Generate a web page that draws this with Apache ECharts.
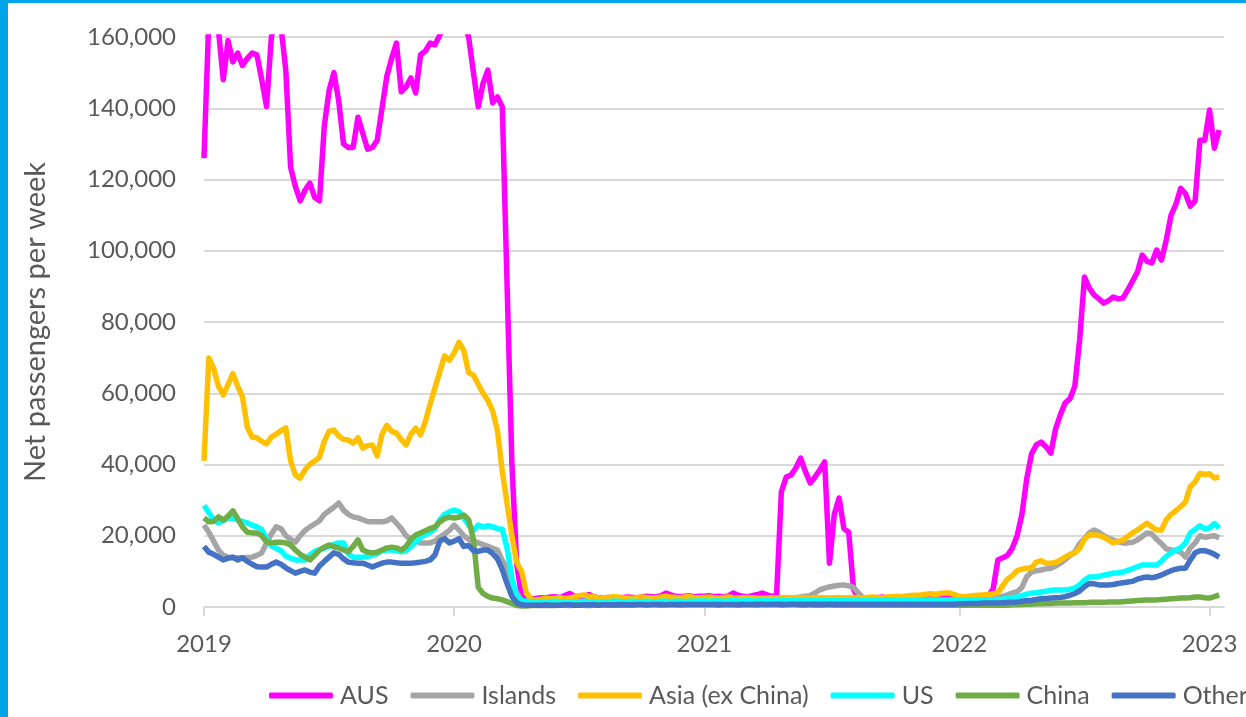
<!DOCTYPE html>
<html>
<head>
<meta charset="utf-8">
<script src="https://cdn.jsdelivr.net/npm/echarts@6/dist/echarts.min.js"></script>
<style>
  html, body { margin: 0; padding: 0; background: #fff; }
  #chart { position: absolute; left: 0; top: 0; width: 1246px; height: 717px; }
  .edge { position: absolute; background: #00a2e8; }
</style>
</head>
<body>
<div id="chart"></div>
<div class="edge" style="left:0;top:0;width:8px;height:717px"></div>
<div class="edge" style="left:0;top:0;width:1246px;height:3px"></div>
<script>
// weekly net passenger arrivals, values in thousands, first week of 2019 onwards
const aus = [
  126, 165, 165, 162, 148, 159, 153, 155.5, 152, 154, 155.5, 155, 148, 140.5, 160, 165, 163, 150.7, 123.5, 118, 114, 117, 119, 115, 114, 135,
  145, 150, 142, 130, 129, 129, 137.5, 133, 128.5, 129, 131, 140, 149, 154, 158.3, 144.6, 146, 148.5, 144.3, 155, 156, 158.3, 157.8, 160.5, 163, 166,
  168, 166, 164, 160, 150, 140.4, 147, 150.7, 141.5, 143.2, 140.4, 90, 40, 12, 3, 2.2, 2.2, 2.4, 2.6, 2.5, 2.8, 2.9, 2.6, 3.2, 3.8, 3.0,
  2.8, 3.0, 3.5, 2.8, 2.6, 2.5, 2.7, 2.4, 2.5, 2.6, 2.8, 2.7, 2.6, 2.8, 3.0, 2.9, 2.8, 3.2, 3.9, 3.4, 3.0, 2.9, 3.0, 3.1, 2.9, 3.0,
  3.0, 3.2, 2.9, 3.0, 2.8, 3.1, 3.9, 3.3, 3.0, 2.9, 3.2, 3.5, 3.9, 3.4, 3.0, 3.2, 32.3, 36.5, 37, 39, 41.8, 38, 34.8, 36.5, 38.5, 40.7,
  12.3, 26, 30.6, 22, 21, 5, 2.5, 2.6, 2.5, 2.4, 2.6, 2.8, 2.5, 2.4, 2.6, 2.7, 2.5, 2.6, 2.8, 3.0, 2.8, 2.6, 2.7, 2.9, 2.8, 2.6,
  2.8, 2.6, 2.5, 2.7, 2.8, 3.0, 3.1, 3.2, 5, 13.2, 13.8, 14.5, 16.5, 20, 26, 36, 43, 45.5, 46.3, 45, 43.2, 50, 54, 57.3, 58.5, 62,
  75, 92.6, 89.5, 87.6, 86.5, 85.3, 86, 87, 86.5, 86.7, 89, 91.5, 94, 98.8, 97, 96.6, 100.2, 97.4, 103, 110, 113, 117.5, 116, 112.5, 114, 131,
  131, 139.5, 128.8, 133.9
];
const islands = [
  23, 21, 18.5, 16, 14.5, 14, 13.8, 13.8, 13.8, 13.9, 14, 14.5, 15.2, 18, 20.5, 22.5, 22, 20, 19, 18.2, 20, 21.5, 22.5, 23.3, 24.2, 26,
  27, 28, 29.2, 27.2, 26, 25.3, 25, 24.5, 24, 23.9, 23.9, 23.9, 24.2, 25, 23.5, 22, 20, 19, 18.6, 18, 18, 18, 18.5, 19.6, 20.5, 21.5,
  23, 21.6, 20, 19, 18.5, 18, 17.5, 17, 16.5, 16, 13, 11, 7, 3.9, 1.8, 1.5, 1.4, 1.4, 1.5, 1.5, 1.6, 1.5, 1.4, 1.5, 1.6, 1.5,
  1.5, 1.6, 1.7, 1.6, 1.5, 1.5, 1.6, 1.6, 1.5, 1.6, 1.7, 1.6, 1.5, 1.6, 1.6, 1.7, 1.6, 1.5, 1.6, 1.7, 1.8, 1.7, 1.6, 1.6, 1.7, 1.7,
  1.7, 1.7, 1.8, 1.7, 1.8, 1.8, 1.9, 1.8, 1.8, 1.9, 2, 1.9, 2, 2.1, 2, 2.2, 2.3, 2.4, 2.5, 2.6, 2.8, 3, 3.2, 4, 4.8, 5.3,
  5.6, 5.9, 6.1, 6.2, 5.9, 5.5, 4, 2.5, 2, 1.8, 1.7, 1.6, 1.6, 1.5, 1.6, 1.5, 1.5, 1.6, 1.5, 1.4, 1.5, 1.5, 1.4, 1.5, 1.5, 1.5,
  1.5, 1.4, 1.5, 1.5, 1.5, 1.5, 1.8, 2, 2.3, 2.6, 3, 3.4, 3.9, 4.3, 5.5, 8.5, 9.8, 10.2, 10.4, 10.7, 10.9, 11.5, 12.3, 13.3, 14.5, 15.5,
  17.8, 19.2, 20.8, 21.6, 21, 20, 19.3, 18.8, 18.3, 18, 18, 18.2, 18.8, 19.8, 20.8, 20.5, 19, 17.8, 16.3, 16, 15.8, 15.4, 14, 16.6, 18, 20,
  19.6, 19.8, 20, 19.4
];
const asia = [
  41, 69.9, 67, 62, 59.5, 62.5, 65.5, 62, 59, 50.5, 47.7, 47.5, 46.5, 45.8, 47.7, 48.5, 49.5, 50.3, 41, 37, 36.2, 38.5, 40, 41, 42, 46.5,
  49.3, 49.7, 48, 47, 46.9, 46, 47.5, 44.6, 45.3, 45.5, 42.4, 48.5, 51, 49.3, 48.8, 47, 45.5, 48.5, 50.2, 48.3, 52, 57, 61.5, 66, 70.5, 69.3,
  71.3, 74.3, 72, 65.8, 65.1, 62.5, 60, 58, 55, 49.5, 38, 29, 20, 12.5, 10, 4, 2.2, 2.0, 2.2, 2.4, 2.3, 2.5, 2.6, 2.4, 2.5, 2.8,
  3.2, 3.4, 3.0, 2.8, 2.6, 2.5, 2.7, 2.9, 2.8, 2.6, 2.5, 2.4, 2.6, 2.8, 2.7, 2.6, 2.5, 2.8, 3.0, 2.8, 2.7, 2.6, 2.8, 2.9, 2.7, 2.6,
  2.7, 2.8, 2.6, 2.5, 2.7, 2.8, 2.6, 2.5, 2.6, 2.7, 2.6, 2.5, 2.4, 2.5, 2.6, 2.5, 2.6, 2.7, 2.6, 2.5, 2.6, 2.5, 2.4, 2.6, 2.7, 2.6,
  2.5, 2.6, 2.7, 2.5, 2.6, 2.7, 2.6, 2.5, 2.7, 2.8, 2.7, 2.6, 2.8, 2.9, 3.0, 2.9, 3.1, 3.2, 3.3, 3.4, 3.6, 3.7, 3.5, 3.8, 3.9, 3.9,
  3.5, 3, 2.8, 3, 3.2, 3.3, 3.4, 3.5, 3.7, 4, 6, 7.8, 8.8, 10.2, 10.6, 10.9, 11, 12.6, 13, 12.3, 12.3, 12.5, 13.2, 14, 14.8, 15.2,
  16.5, 19, 20.2, 20.2, 20.1, 19.6, 18.8, 18, 18.4, 18.8, 19.8, 20.8, 21.6, 22.6, 23.5, 22.5, 21.6, 21.6, 24.5, 26, 27, 28.2, 29.5, 33.8, 35.1, 37.5,
  37.2, 37.4, 36.2, 36.5
];
const us = [
  28.5, 26.5, 24.5, 23.6, 24.2, 25, 24.8, 24.5, 24, 23.6, 23, 22.5, 21.8, 19, 17.2, 16.5, 15.8, 14.3, 13.7, 13.2, 13.2, 13.2, 14.6, 15.6, 16, 16.5,
  17, 17.6, 18, 18, 15, 14, 14, 14, 14.2, 14.5, 15, 15.8, 16, 16, 15.8, 15.5, 15.8, 17, 18.3, 19.6, 20.3, 21, 22, 24.5, 26, 26.7,
  27.2, 26.8, 25, 23, 21.6, 23, 22.5, 22.8, 22.5, 22, 21.8, 16.5, 8, 2.8, 1.8, 1.6, 1.5, 1.5, 1.4, 1.5, 1.5, 1.6, 1.5, 1.5, 1.4, 1.5,
  1.5, 1.6, 1.5, 1.5, 1.4, 1.5, 1.5, 1.6, 1.6, 1.5, 1.5, 1.6, 1.5, 1.5, 1.6, 1.5, 1.5, 1.6, 1.6, 1.5, 1.6, 1.6, 1.5, 1.6, 1.6, 1.7,
  1.7, 1.6, 1.7, 1.7, 1.6, 1.7, 1.8, 1.7, 1.7, 1.8, 1.7, 1.7, 1.8, 1.8, 1.7, 1.8, 1.9, 1.8, 1.8, 1.9, 1.8, 1.8, 1.9, 1.9, 1.8, 1.9,
  2.0, 1.9, 1.9, 2.0, 1.9, 1.9, 2.0, 1.9, 1.9, 2.0, 2.0, 1.9, 2.0, 2.0, 1.9, 2.0, 2.0, 2.0, 1.9, 2.0, 2.0, 2.0, 2.0, 2.0, 2.0, 2.0,
  2, 2, 2, 2, 2, 2, 2, 2, 2, 2.1, 2.2, 2.4, 2.6, 2.8, 3.2, 3.6, 3.9, 4, 4.2, 4.4, 4.7, 4.8, 4.8, 4.8, 5, 5.3,
  6.2, 7.5, 8.4, 8.4, 8.6, 8.9, 9.2, 9.5, 9.6, 9.8, 10.3, 10.8, 11.3, 11.8, 11.8, 11.8, 11.8, 12.8, 14.2, 15.2, 16, 16.6, 18, 20.8, 21.8, 22.8,
  22, 22.2, 23.4, 22.2
];
const china = [
  25, 23.9, 24, 25.3, 24.4, 25.5, 27, 24.8, 22.5, 21, 20.8, 20.8, 20, 18.3, 18, 18.2, 18.2, 18, 17.4, 16, 14.8, 14, 13.2, 14.5, 16, 16.8,
  17.4, 16.9, 16.6, 16, 15.5, 17, 18.8, 16, 15.4, 15.2, 15.4, 16, 16.6, 16.8, 16.6, 16, 17, 19, 20.2, 20.8, 21.4, 22, 22.5, 23.9, 24.8, 25.2,
  25, 25.2, 25.8, 24.5, 19, 5.5, 3.8, 3, 2.5, 2.3, 2, 1.5, 1, 0.4, 0.3, 0.3, 0.4, 0.4, 0.4, 0.5, 0.4, 0.4, 0.5, 0.5, 0.4, 0.5,
  0.5, 0.5, 0.4, 0.5, 0.5, 0.6, 0.5, 0.5, 0.5, 0.6, 0.5, 0.5, 0.6, 0.6, 0.5, 0.6, 0.6, 0.5, 0.6, 0.6, 0.6, 0.5, 0.6, 0.6, 0.6, 0.6,
  0.6, 0.6, 0.6, 0.5, 0.6, 0.6, 0.6, 0.5, 0.6, 0.6, 0.6, 0.5, 0.6, 0.6, 0.6, 0.6, 0.5, 0.6, 0.6, 0.6, 0.5, 0.5, 0.6, 0.5, 0.5, 0.5,
  0.6, 0.5, 0.5, 0.5, 0.5, 0.5, 0.5, 0.5, 0.5, 0.5, 0.5, 0.5, 0.5, 0.5, 0.5, 0.5, 0.5, 0.5, 0.5, 0.5, 0.5, 0.5, 0.5, 0.5, 0.5, 0.5,
  0.5, 0.5, 0.5, 0.5, 0.5, 0.5, 0.5, 0.5, 0.5, 0.5, 0.5, 0.5, 0.6, 0.6, 0.7, 0.8, 0.8, 0.9, 0.9, 1, 1, 1.1, 1.1, 1.1, 1.1, 1.2,
  1.2, 1.2, 1.3, 1.3, 1.3, 1.3, 1.4, 1.4, 1.4, 1.5, 1.6, 1.7, 1.8, 1.9, 2, 2, 2, 2.1, 2.2, 2.3, 2.4, 2.5, 2.5, 2.6, 2.8, 2.8,
  2.6, 2.5, 2.9, 3.4
];
const other = [
  17, 15.4, 14.8, 14, 13.2, 13.7, 14, 13.2, 13.8, 12.8, 12, 11.3, 11.2, 11.2, 12, 12.6, 12, 11, 10.2, 9.5, 10, 10.4, 9.8, 9.5, 11.5, 12.8,
  14, 15.2, 14.8, 13.5, 12.6, 12.4, 12.3, 12.3, 11.8, 11.2, 11.8, 12.3, 12.6, 12.6, 12.4, 12.3, 12.3, 12.3, 12.4, 12.6, 12.8, 13.2, 14.6, 18.5, 19.2, 18,
  18.5, 19.2, 17, 17.3, 15.8, 15.6, 16, 16, 15, 13.5, 10.5, 6.5, 3, 1.2, 0.6, 0.5, 0.5, 0.5, 0.5, 0.6, 0.5, 0.5, 0.5, 0.6, 0.6, 0.5,
  0.5, 0.6, 0.6, 0.6, 0.5, 0.6, 0.6, 0.6, 0.6, 0.7, 0.6, 0.6, 0.7, 0.7, 0.6, 0.7, 0.7, 0.7, 0.6, 0.7, 0.7, 0.7, 0.7, 0.7, 0.7, 0.7,
  0.7, 0.7, 0.7, 0.7, 0.7, 0.7, 0.7, 0.7, 0.8, 0.7, 0.7, 0.8, 0.8, 0.7, 0.8, 0.8, 0.8, 0.7, 0.8, 0.8, 0.8, 0.8, 0.8, 0.8, 0.8, 0.8,
  0.8, 0.8, 0.8, 0.8, 0.8, 0.8, 0.8, 0.8, 0.8, 0.8, 0.8, 0.8, 0.8, 0.8, 0.8, 0.8, 0.8, 0.8, 0.8, 0.8, 0.8, 0.8, 0.8, 0.8, 0.8, 0.8,
  0.8, 0.9, 0.9, 1, 1, 1, 1.1, 1.1, 1.1, 1.1, 1.2, 1.3, 1.3, 1.4, 1.6, 1.8, 1.9, 2.1, 2.3, 2.4, 2.5, 2.6, 2.7, 2.9, 3.3, 3.8,
  4.5, 5.7, 6.6, 6.5, 6.2, 6.2, 6.2, 6.3, 6.6, 6.8, 7, 7.2, 7.8, 8.2, 8.4, 8.2, 8.5, 9, 9.6, 10.2, 10.6, 10.9, 10.9, 13.2, 15.2, 15.8,
  15.8, 15.4, 14.8, 14
];

const seriesNames = ['AUS', 'Islands', 'Asia (ex China)', 'US', 'China', 'Other'];
const seriesColors = ['#ff00ff', '#a5a5a5', '#ffc000', '#00ffff', '#70ad47', '#4472c4'];
const seriesValues = [aus, islands, asia, us, china, other];

// x axis: one category per week, one spare week at the end
const weekCount = 213;
const yearTickIndex = [0, 52, 104, 157, 209];
const yearLabels = ['2019', '2020', '2021', '2022', '2023'];

const categories = [];
for (let i = 0; i < weekCount; i++) {
  const d = new Date(Date.UTC(2019, 0, 1) + i * 7 * 86400000);
  categories.push(d.toISOString().slice(0, 10));
}

const labelFont = 'Lato, "Open Sans", sans-serif';
const isYearTick = (index) => yearTickIndex.indexOf(index) >= 0;

const chart = echarts.init(document.getElementById('chart'));
const option = {
  animation: false,
  backgroundColor: '#ffffff',
  grid: {
    left: 204,
    right: 22,
    top: 37,
    bottom: 110,
    outerBoundsMode: 'none',
  },
  legend: {
    left: 264,
    top: 678,
    width: 1200,
    icon: 'roundRect',
    itemWidth: 64,
    itemHeight: 6,
    itemGap: 22,
    data: seriesNames,
    textStyle: {
      color: '#595959',
      fontSize: 25,
      fontFamily: labelFont,
      padding: [0, 0, 0, 2],
    },
  },
  xAxis: {
    type: 'category',
    data: categories,
    boundaryGap: false,
    axisLine: {
      lineStyle: { color: '#d9d9d9', width: 2 },
    },
    axisTick: {
      show: true,
      interval: isYearTick,
      length: 9,
      lineStyle: { color: '#d9d9d9', width: 2 },
    },
    axisLabel: {
      interval: isYearTick,
      formatter: (value, index) => yearLabels[yearTickIndex.indexOf(index)] || '',
      color: '#595959',
      fontSize: 24,
      fontFamily: labelFont,
      margin: 25,
    },
    splitLine: { show: false },
  },
  yAxis: {
    type: 'value',
    min: 0,
    max: 160000,
    interval: 20000,
    name: 'Net passengers per week',
    nameLocation: 'middle',
    nameGap: 154,
    nameTextStyle: {
      color: '#595959',
      fontSize: 29,
      fontFamily: labelFont,
    },
    axisLine: { show: false },
    axisTick: { show: false },
    axisLabel: {
      formatter: (v) => v.toLocaleString('en-US'),
      color: '#595959',
      fontSize: 24,
      fontFamily: labelFont,
      margin: 28,
    },
    splitLine: {
      lineStyle: { color: '#d9d9d9', width: 2 },
    },
  },
  series: seriesNames.map((name, i) => ({
    name: name,
    type: 'line',
    data: seriesValues[i].map((v) => v * 1000),
    showSymbol: false,
    symbol: 'none',
    clip: true,
    lineStyle: { width: 5.5, color: seriesColors[i], join: 'round' },
    itemStyle: { color: seriesColors[i] },
  })),
};
chart.setOption(option);
</script>
</body>
</html>
